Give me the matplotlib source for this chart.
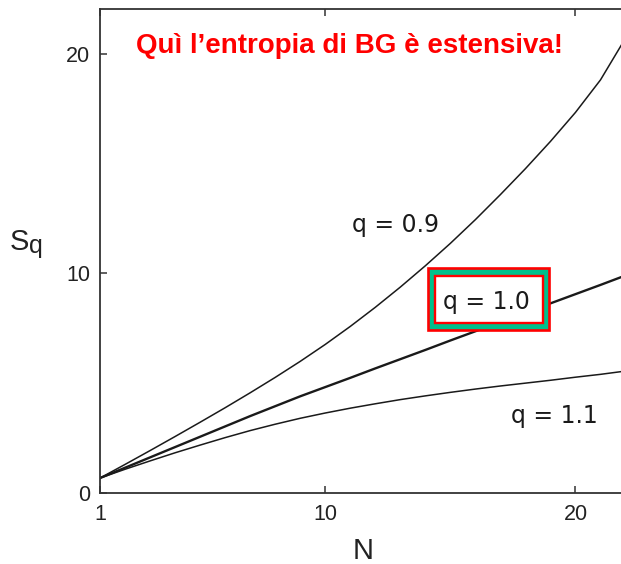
import matplotlib
matplotlib.use('Agg')
import matplotlib.pyplot as plt
from matplotlib.patches import Rectangle
from matplotlib import font_manager as fm

# ---------------- data ----------------
N = [1, 2, 3, 4, 5, 6, 7, 8, 9, 10, 11, 12, 13, 14, 15, 16, 17, 18, 19, 20, 21, 22]
S_q09 = [0.68, 1.30, 1.93, 2.57, 3.22, 3.88, 4.56, 5.26, 5.99, 6.76, 7.58, 8.45,
         9.37, 10.34, 11.36, 12.44, 13.58, 14.76, 16.00, 17.32, 18.80, 20.70]
S_q10 = [0.68, 1.15, 1.62, 2.09, 2.56, 3.03, 3.50, 3.95, 4.40, 4.82, 5.24, 5.67,
         6.09, 6.51, 6.94, 7.36, 7.78, 8.21, 8.63, 9.05, 9.47, 9.90]
S_q11 = [0.68, 1.08, 1.46, 1.83, 2.18, 2.52, 2.84, 3.13, 3.40, 3.64, 3.86, 4.06,
         4.25, 4.42, 4.58, 4.73, 4.87, 5.00, 5.13, 5.27, 5.40, 5.55]
curve_labels = ['q = 0.9', 'q = 1.0', 'q = 1.1']
x_ticks = [1, 10, 20]
y_ticks = [0, 10, 20]
x_label = 'N'
y_label_main, y_label_sub = 'S', 'q'
title_text = 'Quì l’entropia di BG è estensiva!'

# ---------------- fonts ----------------
avail = {f.name for f in fm.fontManager.ttflist}
base_font = 'Liberation Sans' if 'Liberation Sans' in avail else 'DejaVu Sans'
title_font = 'Liberation Sans Narrow' if 'Liberation Sans Narrow' in avail else base_font
plt.rcParams['font.family'] = [base_font, 'DejaVu Sans']

W, H = 621, 564
fig = plt.figure(figsize=(W / 100, H / 100), dpi=100)


def fx(px):
    return px / W


def fy(py):
    return 1 - py / H


ax = fig.add_axes([fx(100), fy(493), fx(621) - fx(100), fy(8.5) - fy(493)])
ink = '#1a1a1a'
ax.plot(N, S_q09, color=ink, lw=1.1)
ax.plot(N, S_q10, color=ink, lw=1.7)
ax.plot(N, S_q11, color=ink, lw=1.1)

ax.set_xlim(1, 21.82)
ax.set_ylim(0, 22.05)
ax.set_xticks(x_ticks)
ax.set_xticklabels([str(t) for t in x_ticks])
ax.set_yticks(y_ticks)
ax.set_yticklabels([str(t) for t in y_ticks])
ax.spines['right'].set_visible(False)
for s in ['left', 'bottom', 'top']:
    ax.spines[s].set_linewidth(1.3)
    ax.spines[s].set_color('#333333')
ax.tick_params(direction='in', length=5, width=1.1, top=True, right=False,
               labelsize=15.5, color='#333333', labelcolor='#222222')
ax.tick_params(axis='x', pad=8)
ax.tick_params(axis='y', pad=7)

# axis labels
fig.text(fx(363), fy(559), x_label, fontsize=21, ha='center', va='baseline', color='#222222')
fig.text(fx(19), fy(250), y_label_main, fontsize=21, ha='center', va='baseline', color='#222222')
fig.text(fx(36), fy(253), y_label_sub, fontsize=18, ha='center', va='baseline', color='#222222')

# curve labels
lab_font = ['DejaVu Sans']
fig.text(fx(396), fy(231.7), curve_labels[0], fontsize=17, ha='center', va='baseline',
         color=ink, family=lab_font)
fig.text(fx(554), fy(423.3), curve_labels[2], fontsize=17, ha='center', va='baseline',
         color=ink, family=lab_font)

# highlighted box around q = 1.0
red = '#ff0000'
teal = '#00c08c'
outer = Rectangle((fx(428), fy(329.6)), fx(548.6) - fx(428), fy(268.4) - fy(329.6),
                  transform=fig.transFigure, facecolor=teal, edgecolor=red, lw=1.9, zorder=2)
inner = Rectangle((fx(434.5), fy(322.5)), fx(542.8) - fx(434.5), fy(276) - fy(322.5),
                  transform=fig.transFigure, facecolor='white', edgecolor=red, lw=1.7, zorder=3)
fig.add_artist(outer)
fig.add_artist(inner)
fig.text(fx(486), fy(308.7), curve_labels[1], fontsize=17, ha='center', va='baseline',
         color=ink, family=lab_font, zorder=4)

# title
fig.text(fx(349), fy(53), title_text, fontsize=20, fontweight='bold', color=red,
         ha='center', va='baseline', family=[title_font, 'DejaVu Sans'], zorder=4)

fig.savefig('out.png', dpi=100)
